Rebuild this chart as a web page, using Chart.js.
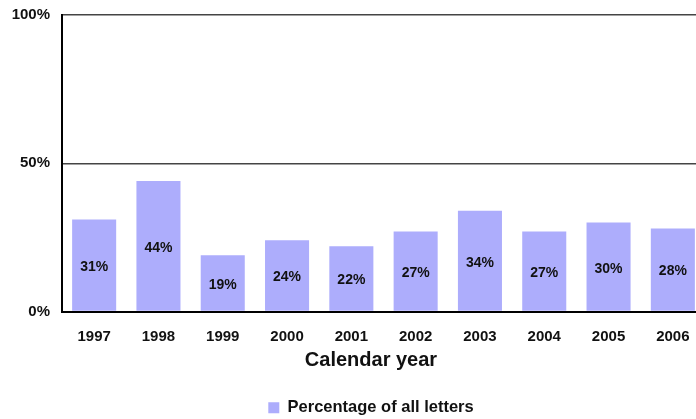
<!DOCTYPE html>
<html>
<head>
<meta charset="utf-8">
<script src="https://cdn.jsdelivr.net/npm/chart.js@4"></script>
<style>
    html, body { margin: 0; padding: 0; background: #fff; overflow: hidden; }
    #wrap { width: 696px; height: 419px; overflow: hidden; }
</style>
</head>
<body>
<div id="wrap"><canvas id="letterChart" width="742" height="419"></canvas></div>
<script>
// Share of letters per calendar year
const years = ['1997', '1998', '1999', '2000', '2001', '2002', '2003', '2004', '2005', '2006'];
const percentages = [31, 44, 19, 24, 22, 27, 34, 27, 30, 28];
const yTicks = [0, 50, 100];

const barColor = '#adadfc';
const fontFamily = '"Liberation Sans", Arial, sans-serif';

// Writes the value in the middle of each bar
const barLabels = {
    id: 'barLabels',
    afterDatasetsDraw(chart) {
        const ctx = chart.ctx;
        const meta = chart.getDatasetMeta(0);
        ctx.save();
        ctx.font = 'bold 14px ' + fontFamily;
        ctx.fillStyle = '#111';
        ctx.textAlign = 'center';
        ctx.textBaseline = 'middle';
        meta.data.forEach((bar, i) => {
            const mid = (bar.y + bar.base) / 2;
            ctx.fillText(percentages[i] + '%', bar.x, mid + 2);
        });
        ctx.restore();
    }
};

const ctx = document.getElementById('letterChart').getContext('2d');
new Chart(ctx, {
    type: 'bar',
    data: {
        labels: years,
        datasets: [{
            label: 'Percentage of all letters',
            data: percentages,
            backgroundColor: barColor,
            borderWidth: 0,
            categoryPercentage: 0.685,
            barPercentage: 1.0
        }]
    },
    options: {
        responsive: false,
        animation: false,
        layout: { padding: { top: 15, right: 0, left: 0, bottom: -7 } },
        plugins: {
            tooltip: { enabled: false },
            title: {
                display: true,
                position: 'bottom',
                weight: 500,
                text: 'Calendar year',
                color: '#111',
                padding: { top: 2, bottom: 23 },
                font: { family: fontFamily, size: 20, weight: 'bold' }
            },
            legend: {
                position: 'bottom',
                labels: {
                    color: '#111',
                    boxWidth: 11,
                    boxHeight: 11,
                    padding: 4,
                    font: { family: fontFamily, size: 16.5, weight: 'bold' }
                }
            }
        },
        scales: {
            x: {
                afterFit(scale) { scale.height = 35; },
                grid: { display: false, drawTicks: false },
                border: { color: '#000', width: 2 },
                ticks: {
                    color: '#111',
                    padding: 16,
                    font: { family: fontFamily, size: 15, weight: 'bold' }
                }
            },
            y: {
                min: 0,
                max: 100,
                afterFit(scale) {
                    scale.width = 62;
                    scale.paddingTop = 9;
                    scale.paddingBottom = 9;
                },
                afterBuildTicks(scale) { scale.ticks = yTicks.map(v => ({ value: v })); },
                grid: {
                    color: ctx => ctx.tick && ctx.tick.value === 0 ? 'rgba(0,0,0,0)' : '#444',
                    lineWidth: 1.5,
                    drawTicks: false
                },
                border: { color: '#000', width: 2 },
                ticks: {
                    color: '#111',
                    padding: 12,
                    callback: v => v + '%',
                    font: { family: fontFamily, size: 15, weight: 'bold' }
                }
            },
            // empty strip on the right of the plot
            yRight: {
                position: 'right',
                afterFit(scale) { scale.width = 37; },
                grid: { display: false },
                border: { display: false },
                ticks: { display: false }
            }
        }
    },
    plugins: [barLabels]
});
</script>
</body>
</html>
